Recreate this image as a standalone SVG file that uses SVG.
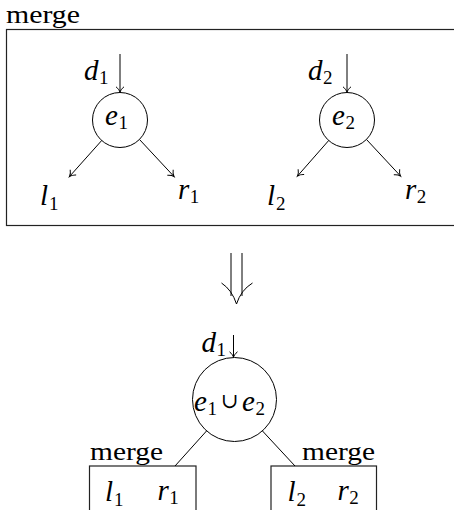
<svg xmlns="http://www.w3.org/2000/svg" width="454" height="510" viewBox="0 0 454 510">
<style>
text{font-family:"Liberation Serif","Times New Roman",serif;fill:#000}
.m{font-style:italic;font-size:29px}
.s{font-style:normal;font-size:19px}
.w{font-size:26px}
.u{font-family:"DejaVu Serif","Liberation Serif",serif;font-size:21px;text-anchor:middle}
.ln{stroke:#000;stroke-width:1;fill:none}
.bx{stroke:#222;stroke-width:1.2;fill:none}
</style>
<defs>
<marker id="to" markerUnits="userSpaceOnUse" markerWidth="14" markerHeight="14" viewBox="-8 -7 10 14" refX="0" refY="0" orient="auto">
<path d="M-5.5,-4 C-3.5,-1.5 -1.5,-0.4 0,0 C-1.5,0.4 -3.5,1.5 -5.5,4" fill="none" stroke="#000" stroke-width="1"/>
</marker>
</defs>
<g id="box-top">
<rect class="bx" x="6.5" y="29.5" width="470" height="196"/>
<text class="w" x="6" y="23" textLength="74" lengthAdjust="spacingAndGlyphs">merge</text>
</g>
<g id="node-e1">
<circle class="ln" cx="120" cy="120" r="27.5"/>
<text class="m" x="105" y="125">e<tspan class="s" dy="4" dx="0.5">1</tspan></text>
</g>
<g id="node-e2">
<circle class="ln" cx="347" cy="120" r="27.5"/>
<text class="m" x="332" y="125">e<tspan class="s" dy="4" dx="0.5">2</tspan></text>
</g>
<g id="label-d1"><text class="m" x="84" y="79.5">d<tspan class="s" dy="4" dx="0.5">1</tspan></text></g>
<g id="label-d2"><text class="m" x="308" y="79.5">d<tspan class="s" dy="4" dx="0.5">2</tspan></text></g>
<g id="label-l1"><text class="m" x="40" y="205">l<tspan class="s" dy="5" dx="1">1</tspan></text></g>
<g id="label-r1"><text class="m" x="178" y="199">r<tspan class="s" dy="4" dx="0.5">1</tspan></text></g>
<g id="label-l2"><text class="m" x="267" y="205">l<tspan class="s" dy="5" dx="1">2</tspan></text></g>
<g id="label-r2"><text class="m" x="405" y="199">r<tspan class="s" dy="4" dx="0.5">2</tspan></text></g>
<g id="implies">
<path class="ln" d="M231,253 V296 M242,253 V296" stroke-width="1.2"/>
<path class="ln" d="M221.5,283 Q232,290 236.5,304 Q241,290 252.5,283" stroke-width="1.2"/>
</g>
<g id="node-union">
<circle class="ln" cx="234.5" cy="399.5" r="42"/>
<text class="m" x="194" y="410.5">e<tspan class="s" dy="4" dx="0.5">1</tspan></text>
<text class="u" x="229.5" y="408">∪</text>
<text class="m" x="242" y="410.5">e<tspan class="s" dy="4" dx="0.5">2</tspan></text>
</g>
<g id="label-d1b"><text class="m" x="201.5" y="351.5">d<tspan class="s" dy="4" dx="0.5">1</tspan></text></g>
<g id="box-left">
<rect class="bx" x="89.5" y="466" width="106.5" height="60"/>
<text class="w" x="90" y="459.5" textLength="73" lengthAdjust="spacingAndGlyphs">merge</text>
<text class="m" x="105" y="501">l<tspan class="s" dy="5" dx="1">1</tspan></text>
<text class="m" x="157.5" y="500">r<tspan class="s" dy="4" dx="0.5">1</tspan></text>
</g>
<g id="box-right">
<rect class="bx" x="271" y="466" width="105.5" height="60"/>
<text class="w" x="302" y="459.5" textLength="73" lengthAdjust="spacingAndGlyphs">merge</text>
<text class="m" x="287.5" y="501">l<tspan class="s" dy="5" dx="1">2</tspan></text>
<text class="m" x="337.5" y="500">r<tspan class="s" dy="4" dx="0.5">2</tspan></text>
</g>
<g id="connectors">
<line class="ln" x1="120" y1="54" x2="120" y2="92.3" marker-end="url(#to)"/>
<line class="ln" x1="101.7" y1="140.5" x2="69.5" y2="176.5" marker-end="url(#to)"/>
<line class="ln" x1="139.5" y1="139.5" x2="174" y2="176.5" marker-end="url(#to)"/>
<line class="ln" x1="347" y1="54" x2="347" y2="92.3" marker-end="url(#to)"/>
<line class="ln" x1="328.7" y1="140.5" x2="297.5" y2="176" marker-end="url(#to)"/>
<line class="ln" x1="366.5" y1="139.5" x2="400.5" y2="176" marker-end="url(#to)"/>
<line class="ln" x1="233.5" y1="335" x2="233.5" y2="357.3" marker-end="url(#to)"/>
<line class="ln" x1="206.5" y1="431" x2="175" y2="466"/>
<line class="ln" x1="262.5" y1="431" x2="295" y2="466"/>
</g>
</svg>
